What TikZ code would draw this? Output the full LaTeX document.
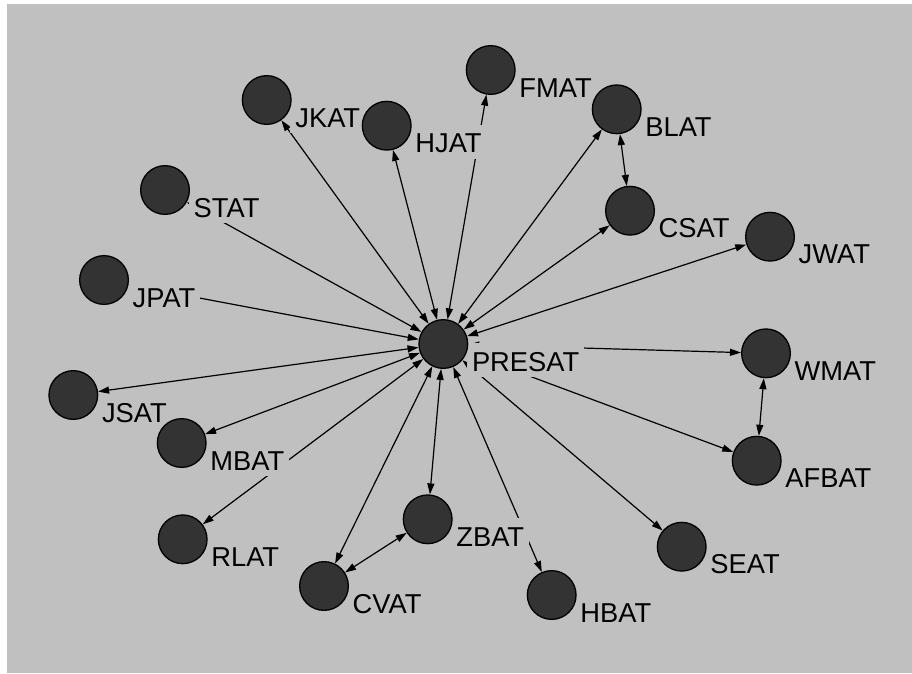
\documentclass[tikz,border=0pt]{standalone}
\usepackage{fontspec}
\setmainfont{Liberation Sans}
\usetikzlibrary{arrows.meta}
\definecolor{bggray}{HTML}{C0C0C0}
\definecolor{nodefill}{HTML}{333333}
\begin{document}
\begin{tikzpicture}[x=1pt,y=-1pt,
  spot/.style={circle, minimum size=50pt, inner sep=0pt, outer sep=0pt},
  vtx/.style={circle, draw=black, line width=1.3pt, fill=nodefill, minimum size=48.7pt, inner sep=0pt},
  lbl/.style={anchor=base west, fill=bggray, inner xsep=5pt, inner ysep=3pt, text height=25pt, text depth=3pt, font=\fontsize{27.3}{30}\selectfont},
  link/.style={line width=1.2pt, {Triangle[length=11pt,width=7pt]}-{Triangle[length=11pt,width=7pt]}}]
\useasboundingbox (0,0) rectangle (912,673);
\fill[white] (0,0) rectangle (912,673);
\fill[bggray] (7,4) rectangle (912,673);
% positions
\foreach \n/\x/\y in {PRESAT/443.3/344, JKAT/266.7/100, HJAT/386.7/125.7, FMAT/490.7/70,
  BLAT/616.7/109.3, CSAT/630/210.7, JWAT/770/236.7, WMAT/766/353.3, AFBAT/756.7/460.7,
  SEAT/681.7/546.7, HBAT/551.7/595, ZBAT/427.7/519.3, CVAT/324/586, RLAT/182.7/539.3,
  MBAT/181.7/443, JSAT/73.3/395, JPAT/104/280, STAT/165/190}
  {\node[spot] (\n) at (\x,\y) {};}
% connectors
\foreach \n in {JKAT,HJAT,FMAT,BLAT,CSAT,JWAT,WMAT,AFBAT,SEAT,HBAT,ZBAT,CVAT,RLAT,MBAT,JSAT,JPAT,STAT}
  {\draw[link] (PRESAT) -- (\n);}
\draw[link] (BLAT) -- (CSAT);
\draw[link] (WMAT) -- (AFBAT);
\draw[link] (ZBAT) -- (CVAT);
% labels
\foreach \n in {PRESAT,JKAT,HJAT,FMAT,BLAT,CSAT,JWAT,WMAT,AFBAT,SEAT,HBAT,ZBAT,CVAT,RLAT,MBAT,JSAT,JPAT,STAT}
  {\node[lbl] (\n-l) at ([shift={(23.5,27)}]\n.center) {\n};}
% circles
\foreach \n in {PRESAT,JKAT,HJAT,FMAT,BLAT,CSAT,JWAT,WMAT,AFBAT,SEAT,HBAT,ZBAT,CVAT,RLAT,MBAT,JSAT,JPAT,STAT}
  {\node[vtx] (\n-c) at (\n.center) {};}
\end{tikzpicture}
\end{document}
